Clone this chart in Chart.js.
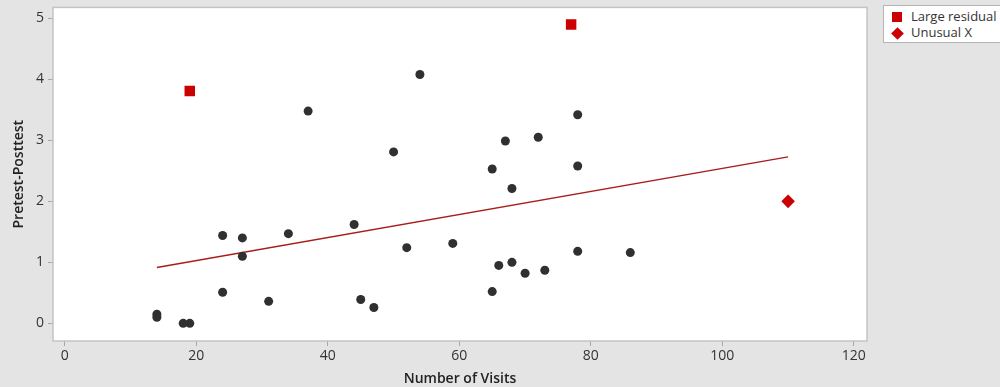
<!DOCTYPE html>
<html>
<head>
<meta charset="utf-8">
<script src="https://cdn.jsdelivr.net/npm/chart.js@4/dist/chart.umd.min.js"></script>
<style>
  html, body { margin: 0; padding: 0; background: #e4e4e4; }
  #wrap { position: relative; width: 1000px; height: 387px; }
  canvas { display: block; }
  #legend {
    position: absolute; left: 883px; top: 5px; width: 130px; height: 36px;
    background: #fff; border: 1px solid #b4b4b4;
    font-family: "Open Sans", "Noto Sans", sans-serif; font-size: 13px; color: #333;
  }
  .item { position: absolute; left: 27px; line-height: 16px; }
  .sq { position: absolute; left: 8px; width: 10px; height: 10px; background: #cc0000; }
  .dm { position: absolute; left: 9px; width: 9px; height: 9px; background: #cc0000; transform: rotate(45deg); }
</style>
</head>
<body>
<div id="wrap">
  <canvas id="c" width="1000" height="387"></canvas>
  <div id="legend">
    <div class="sq" style="top:6px"></div><div class="item" style="top:2px">Large residual</div>
    <div class="dm" style="top:23px"></div><div class="item" style="top:18px">Unusual X</div>
  </div>
</div>
<script>
// Observations: number of visits vs. pretest-posttest change
const visits = [14, 14, 18, 19, 24, 24, 27, 27, 31, 34, 37, 44, 45, 47, 50, 52, 54, 59,
                65, 65, 66, 67, 68, 68, 70, 72, 73, 78, 78, 78, 86];
const change = [0.15, 0.10, 0.00, 0.00, 0.51, 1.44, 1.40, 1.10, 0.36, 1.47, 3.48, 1.62, 0.39, 0.26, 2.81, 1.24, 4.08, 1.31,
                2.53, 0.52, 0.95, 2.99, 2.21, 1.00, 0.82, 3.05, 0.87, 3.42, 2.58, 1.18, 1.16];

// Flagged observations
const residualVisits = [19, 77];
const residualChange = [3.81, 4.90];
const unusualVisits = [110];
const unusualChange = [2.00];

// Fitted regression line endpoints
const fitVisits = [14, 110];
const fitChange = [0.915, 2.73];

// Axis ticks
const xTicks = [0, 20, 40, 60, 80, 100, 120];
const yTicks = [0, 1, 2, 3, 4, 5];

const pts = (xs, ys) => xs.map((x, i) => ({ x: x, y: ys[i] }));

const FONT = '"Open Sans", "Noto Sans", sans-serif';

const frame = {
  id: 'frame',
  beforeDatasetsDraw(chart) {
    const a = chart.chartArea, ctx = chart.ctx;
    ctx.save();
    ctx.fillStyle = '#ffffff';
    ctx.fillRect(a.left, a.top, a.right - a.left, a.bottom - a.top);
    ctx.restore();
  },
  afterDraw(chart) {
    const a = chart.chartArea, ctx = chart.ctx;
    ctx.save();
    ctx.strokeStyle = '#c4c4c4';
    ctx.lineWidth = 1.5;
    ctx.strokeRect(a.left, a.top, a.right - a.left, a.bottom - a.top);
    ctx.restore();
  }
};

new Chart(document.getElementById('c'), {
  type: 'scatter',
  data: {
    datasets: [
      {
        type: 'line', data: pts(fitVisits, fitChange),
        borderColor: '#a81c1c', borderWidth: 1.4, pointRadius: 0, fill: false, order: 3
      },
      {
        data: pts(visits, change), pointStyle: 'circle', pointRadius: 4.5,
        backgroundColor: '#303030', borderColor: '#303030', borderWidth: 0, order: 1
      },
      {
        data: pts(residualVisits, residualChange), pointStyle: 'rect', pointRadius: 7.4,
        backgroundColor: '#cc0000', borderColor: '#cc0000', borderWidth: 0, order: 1
      },
      {
        data: pts(unusualVisits, unusualChange), pointStyle: 'rectRot', pointRadius: 6.8,
        backgroundColor: '#cc0000', borderColor: '#cc0000', borderWidth: 0, order: 1
      }
    ]
  },
  options: {
    responsive: false,
    animation: false,
    layout: { padding: { left: 11, right: 133, top: 6, bottom: 0 } },
    plugins: { legend: { display: false }, tooltip: { enabled: false } },
    scales: {
      x: {
        type: 'linear', min: -1.8, max: 122,
        afterFit(s) { s.height = 46; s.paddingLeft = 0; s.paddingRight = 0; },
        afterBuildTicks(s) { s.ticks = xTicks.map(v => ({ value: v })); },
        grid: { drawOnChartArea: false, drawTicks: true, tickLength: 5, color: '#a8a8a8' },
        border: { display: false },
        ticks: { color: '#333', font: { family: FONT, size: 14 }, padding: 2, maxRotation: 0 },
        title: { display: true, text: 'Number of Visits', color: '#222',
                 font: { family: FONT, size: 14, weight: '600' }, padding: { top: 0, bottom: 0 } }
      },
      y: {
        type: 'linear', min: -0.29, max: 5.18,
        afterFit(s) { s.width = 42; s.paddingTop = 0; s.paddingBottom = 0; },
        afterBuildTicks(s) { s.ticks = yTicks.map(v => ({ value: v })); },
        grid: { drawOnChartArea: false, drawTicks: true, tickLength: 5, color: '#a8a8a8' },
        border: { display: false },
        ticks: { color: '#333', font: { family: FONT, size: 14 }, padding: 4 },
        title: { display: true, text: 'Pretest-Posttest', color: '#222',
                 font: { family: FONT, size: 14, weight: '600' }, padding: { top: 0, bottom: 0 } }
      }
    }
  },
  plugins: [frame]
});
</script>
</body>
</html>
